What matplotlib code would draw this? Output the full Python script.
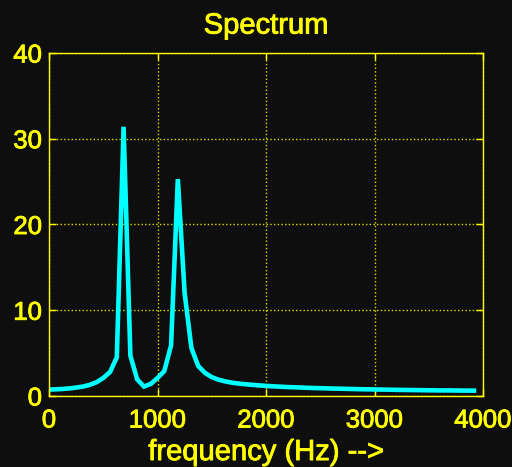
import numpy as np
import matplotlib
matplotlib.use("Agg")
import matplotlib.pyplot as plt
import matplotlib.patheffects as pe

# FFT bins: 8 kHz sampling, 128-point FFT -> 62.5 Hz per bin, 64 bins shown
freq = np.arange(0, 4000, 62.5)
mag = [0.75, 0.78, 0.82, 0.89, 0.98, 1.10, 1.30, 1.60, 2.10, 2.80,
       4.50, 31.4, 4.70, 1.95, 1.10, 1.40, 2.10, 2.90, 5.90, 25.3,
       12.0, 5.60, 3.50, 2.70, 2.20, 1.90, 1.70, 1.55, 1.45, 1.37,
       1.30, 1.24, 1.18, 1.13, 1.09, 1.05, 1.02, 0.99, 0.96, 0.93,
       0.91, 0.89, 0.87, 0.85, 0.83, 0.81, 0.79, 0.78, 0.76, 0.75,
       0.74, 0.72, 0.71, 0.70, 0.69, 0.68, 0.67, 0.66, 0.65, 0.65,
       0.64, 0.63, 0.63, 0.62]

xticks = [0, 1000, 2000, 3000, 4000]
yticks = [0, 10, 20, 30, 40]

bg = "#0e0e0e"
fg = "#ffff00"

plt.rcParams["font.family"] = ["Liberation Sans", "DejaVu Sans"]

fig = plt.figure(figsize=(5.12, 4.67), dpi=100, facecolor=bg)
ax = fig.add_axes([49 / 512, 71 / 467, 434 / 512, 343 / 467], facecolor=bg)

ax.plot(freq, mag, color="#00ffff", lw=3.3, solid_capstyle="butt",
        solid_joinstyle="miter")

ax.set_xlim(0, 4000)
ax.set_ylim(0, 40)
ax.set_xticks(xticks)
ax.set_yticks(yticks)
ax.grid(True, color=fg, linestyle=":", linewidth=1.0, alpha=0.85)

for s in ax.spines.values():
    s.set_color(fg)
    s.set_linewidth(1.0)

ax.tick_params(direction="in", length=5, width=1, colors=fg,
               top=True, right=True, labelsize=18.5)
ax.tick_params(axis="x", pad=9)
ax.tick_params(axis="y", pad=5)

ax.set_title("Spectrum", color=fg, fontsize=21, pad=14)
ax.set_xlabel("frequency (Hz) -->", color=fg, fontsize=21, labelpad=4)

# bitmap-ish heavier strokes like the original screen capture
thick = [pe.withStroke(linewidth=0.6, foreground=fg)]
for t in ax.get_xticklabels() + ax.get_yticklabels() + [ax.title, ax.xaxis.label]:
    t.set_path_effects(thick)

fig.savefig("out.png", dpi=100, facecolor=bg)
